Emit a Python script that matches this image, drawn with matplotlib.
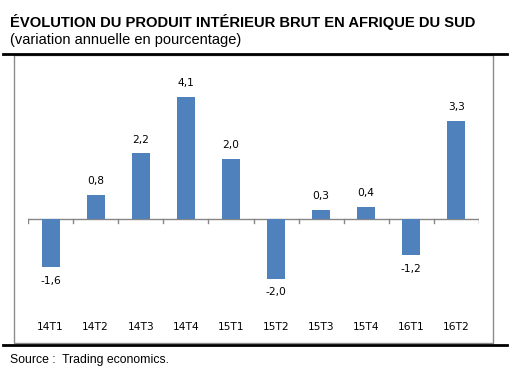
import matplotlib.pyplot as plt
from matplotlib.lines import Line2D
from matplotlib.patches import Rectangle

quarters = ['14T1', '14T2', '14T3', '14T4', '15T1', '15T2', '15T3', '15T4', '16T1', '16T2']
growth = [-1.6, 0.8, 2.2, 4.1, 2.0, -2.0, 0.3, 0.4, -1.2, 3.3]

W, H = 524, 374
fig = plt.figure(figsize=(W / 100, H / 100), dpi=100)


def fx(px):
    return px / W


def fy(py):
    return 1 - py / H


# frame lines and chart box
fig.add_artist(Rectangle((fx(14), fy(343)), fx(493) - fx(14), fy(55) - fy(343),
                         transform=fig.transFigure, fill=False, edgecolor='#8c8c8c', linewidth=1.0))
fig.add_artist(Line2D([fx(3), fx(507)], [fy(53.5), fy(53.5)], transform=fig.transFigure,
                      color='black', linewidth=2.0))
fig.add_artist(Line2D([fx(3), fx(507)], [fy(345), fy(345)], transform=fig.transFigure,
                      color='black', linewidth=2.0))

fig.text(fx(10), fy(22), 'ÉVOLUTION DU PRODUIT INTÉRIEUR BRUT EN AFRIQUE DU SUD',
         fontfamily='Liberation Sans', fontweight='bold', fontsize=10.6, va='center', ha='left')
fig.text(fx(10), fy(40), '(variation annuelle en pourcentage)',
         fontfamily='Liberation Sans', fontsize=10.5, va='center', ha='left')
fig.text(fx(10), fy(360), 'Source :  Trading economics.',
         fontfamily='Liberation Sans', fontsize=8.8, va='center', ha='left')

ax = fig.add_axes([fx(28), fy(300), fx(479) - fx(28), fy(70) - fy(300)])
x = list(range(len(quarters)))
ax.bar(x, growth, width=0.4, color='#4f81bd', zorder=3)
ax.set_xlim(-0.5, len(quarters) - 0.5)
ax.set_ylim(-2.72, 5.0)

ax.axhline(0, color='#868686', linewidth=1.0, zorder=2)
for b in range(len(quarters) + 1):
    ax.plot([b - 0.5, b - 0.5], [0, -0.14], color='#868686', linewidth=1.0, zorder=2)

for xi, v in zip(x, growth):
    lab = f'{v:.1f}'.replace('.', ',')
    off = 10 if v >= 0 else -10
    ax.annotate(lab, (xi, v), xytext=(0, off), textcoords='offset points',
                ha='center', va='center', fontsize=7.7, fontfamily='DejaVu Sans')

ax.set_xticks(x)
ax.set_xticklabels(quarters, fontsize=7.7, fontfamily='DejaVu Sans')
ax.tick_params(axis='x', length=0, pad=16)
ax.set_yticks([])
for s in ax.spines.values():
    s.set_visible(False)
ax.patch.set_visible(False)

fig.savefig('out.png', dpi=100)
